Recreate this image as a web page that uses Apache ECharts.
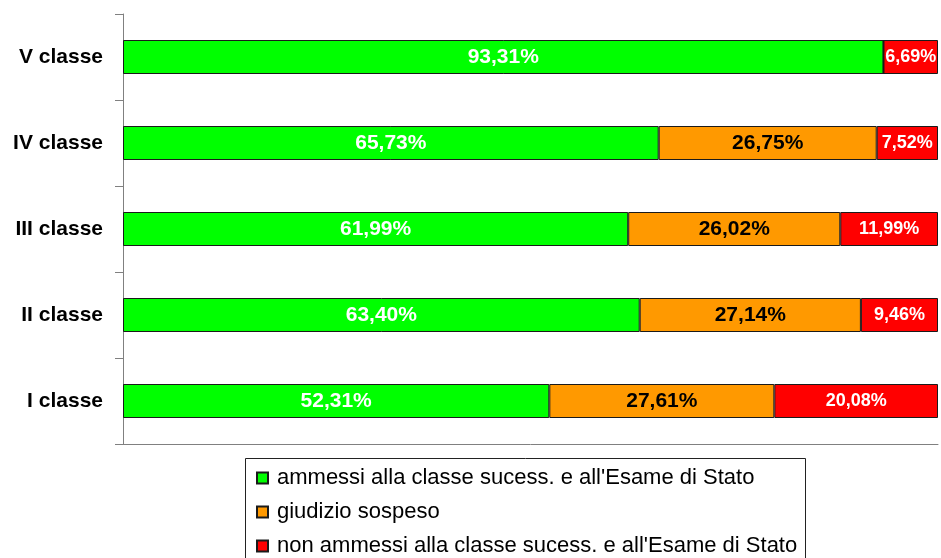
<!DOCTYPE html>
<html>
<head>
<meta charset="utf-8">
<script src="https://cdn.jsdelivr.net/npm/echarts@6/dist/echarts.min.js"></script>
<style>
  html, body { margin: 0; padding: 0; background: #fff; }
  #chart { width: 941px; height: 558px; }
</style>
</head>
<body>
<div id="chart"></div>
<script>
// categorie (dal basso verso l'alto)
const classi = ['I classe', 'II classe', 'III classe', 'IV classe', 'V classe'];

// percentuali per serie
const ammessi = [52.31, 63.40, 61.99, 65.73, 93.31];
const sospesi = [27.61, 27.14, 26.02, 26.75, 0];
const nonAmmessi = [20.08, 9.46, 11.99, 7.52, 6.69];

const nomiSerie = [
  "ammessi alla classe sucess. e all'Esame di Stato",
  'giudizio sospeso',
  "non ammessi alla classe sucess. e all'Esame di Stato"
];
const colori = ['#00ff00', '#ff9900', '#ff0000'];

const font = "'Liberation Sans', Arial, sans-serif";

// formato italiano: virgola decimale
const fmt = p => p.value ? p.value.toFixed(2).replace('.', ',') + '%' : '';

function serie(nome, dati, colore, testo, size) {
  return {
    name: nome,
    type: 'bar',
    stack: 'tot',
    data: dati,
    barWidth: 34,
    itemStyle: { color: colore, borderColor: '#1a1a1a', borderWidth: 1 },
    label: {
      show: true,
      position: 'inside',
      formatter: fmt,
      color: testo,
      fontFamily: font,
      fontWeight: 'bold',
      fontSize: size
    },
    emphasis: { disabled: true }
  };
}

const chart = echarts.init(document.getElementById('chart'));

const option = {
  animation: false,
  grid: { left: 123, right: 3, top: 14, bottom: 114, containLabel: false },
  xAxis: {
    type: 'value',
    min: 0,
    max: 100,
    axisLine: { show: true, lineStyle: { color: '#808080', width: 1 } },
    axisTick: { show: false },
    axisLabel: { show: false },
    splitLine: { show: false }
  },
  yAxis: {
    type: 'category',
    data: classi,
    axisLine: { show: true, lineStyle: { color: '#808080', width: 1 } },
    axisTick: { show: true, inside: false, length: 8, lineStyle: { color: '#808080' } },
    axisLabel: {
      margin: 20,
      color: '#000',
      fontFamily: font,
      fontWeight: 'bold',
      fontSize: 21
    }
  },
  // riquadro della legenda
  graphic: [{
    type: 'rect',
    z: 0,
    shape: { x: 245.5, y: 458.5, width: 560, height: 130 },
    style: { fill: '#fff', stroke: '#222', lineWidth: 1 }
  }],
  legend: {
    orient: 'vertical',
    left: 256,
    top: 467,
    padding: 0,
    itemWidth: 11,
    itemHeight: 11,
    itemGap: 12,
    icon: 'rect',
    textStyle: { color: '#000', fontFamily: font, fontSize: 22, padding: [0, 0, 0, 4] },
    data: nomiSerie
  },
  series: [
    serie(nomiSerie[0], ammessi, colori[0], '#fff', 21),
    serie(nomiSerie[1], sospesi, colori[1], '#000', 21),
    serie(nomiSerie[2], nonAmmessi, colori[2], '#fff', 18)
  ]
};

chart.setOption(option);
</script>
</body>
</html>
